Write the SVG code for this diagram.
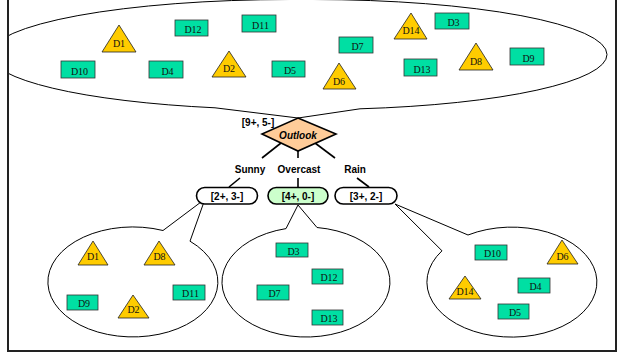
<svg xmlns="http://www.w3.org/2000/svg" width="618" height="353" viewBox="0 0 618 353">
<style>
.r{fill:#00DFA3;stroke:#333;stroke-width:0.8}
.t{fill:#FFCC00;stroke:#222;stroke-width:0.8}
.d{font-family:"Liberation Serif","Times New Roman",serif;font-size:10px;fill:#111;text-anchor:middle}
.b{font-family:"Liberation Sans",Arial,sans-serif;font-size:10px;font-weight:bold;fill:#000;text-anchor:middle}
.bal{fill:#fff;stroke:#000;stroke-width:1}
.pill{stroke:#000;stroke-width:1.6}
.ln{stroke:#000;stroke-width:1.6;fill:none}
</style>
<defs>
<clipPath id="frameclip"><rect x="8" y="0" width="608" height="352"/></clipPath>
</defs>
<rect x="0" y="0" width="618" height="353" fill="#fff"/>

<g id="balloons" clip-path="url(#frameclip)">
<path class="bal" d="M 215,107.8 A 300 55 0 0 1 -10,54.5 A 300 55 0 0 1 290,-0.5 L 313,-0.5 A 294 55 0 0 1 607,54.5 A 294 55 0 0 1 360,108.8 L 298,118 Z"/>
<path class="bal" d="M 190,241.2 A 85 55 0 1 1 163,230.5 L 205,199 Z"/>
<path class="bal" d="M 317,227.5 A 84 55 0 1 1 286,228.6 L 298,205 Z"/>
<path class="bal" d="M 468,235 A 85 55 0 1 1 442,250.8 L 395,204 Z"/>
</g>

<rect x="8" y="-10" width="608" height="361" fill="none" stroke="#222" stroke-width="2"/>

<g id="top-set">
<g id="t-D12"><rect class="r" x="175" y="20" width="33" height="16"/><text class="d" x="193" y="33">D12</text></g>
<g id="t-D11"><rect class="r" x="242" y="15" width="34" height="17"/><text class="d" x="260.5" y="28.5">D11</text></g>
<g id="t-D10"><rect class="r" x="61" y="61" width="34" height="17"/><text class="d" x="79.5" y="74.5">D10</text></g>
<g id="t-D4"><rect class="r" x="149" y="61" width="34" height="17"/><text class="d" x="167.5" y="74.5">D4</text></g>
<g id="t-D5"><rect class="r" x="272" y="61" width="33" height="16"/><text class="d" x="290" y="74">D5</text></g>
<g id="t-D3"><rect class="r" x="435" y="13" width="34" height="16"/><text class="d" x="453.5" y="26">D3</text></g>
<g id="t-D7"><rect class="r" x="339" y="37" width="34" height="16"/><text class="d" x="357.5" y="50">D7</text></g>
<g id="t-D13"><rect class="r" x="404" y="59" width="33" height="17"/><text class="d" x="422" y="72.5">D13</text></g>
<g id="t-D9"><rect class="r" x="510" y="48" width="34" height="17"/><text class="d" x="528.5" y="61.5">D9</text></g>
<g id="t-D1"><polygon class="t" points="119,25 102,52 136,52"/><text class="d" x="119" y="46.5">D1</text></g>
<g id="t-D2"><polygon class="t" points="229,51 212,77 246,77"/><text class="d" x="229" y="71.5">D2</text></g>
<g id="t-D14"><polygon class="t" points="411,13 394,39 427,39"/><text class="d" x="411" y="34">D14</text></g>
<g id="t-D8"><polygon class="t" points="476,43 459,70 493,70"/><text class="d" x="476" y="65">D8</text></g>
<g id="t-D6"><polygon class="t" points="339,63 323,89 356,89"/><text class="d" x="339" y="84.5">D6</text></g>
</g>

<g id="connectors">
<line class="ln" x1="281" y1="143" x2="262" y2="158"/>
<line class="ln" x1="298" y1="151" x2="298" y2="158"/>
<line class="ln" x1="315" y1="143" x2="335" y2="158"/>
<line class="ln" x1="240" y1="178" x2="229" y2="187"/>
<line class="ln" x1="298" y1="178" x2="298" y2="187"/>
<line class="ln" x1="357" y1="178" x2="369" y2="187"/>
</g>

<g id="outlook">
<polygon points="298,118 336,134 298,151 262,134" fill="#FFCC99" stroke="#000" stroke-width="1.6"/>
<text class="b" x="298" y="138.7" font-style="italic">Outlook</text>
<text class="b" x="258" y="125.5">[9+, 5-]</text>
</g>

<g id="labels">
<text class="b" x="250" y="172.6">Sunny</text>
<text class="b" x="299" y="172.6">Overcast</text>
<text class="b" x="355" y="172.6">Rain</text>
</g>

<g id="sunny-node"><rect class="pill" x="196.5" y="187.5" width="61" height="16.5" rx="8.2" fill="#fff"/><text class="b" x="227" y="200">[2+, 3-]</text></g>
<g id="overcast-node"><rect class="pill" x="268" y="187.5" width="60" height="16.5" rx="8.2" fill="#CCFFCC"/><text class="b" x="298" y="200">[4+, 0-]</text></g>
<g id="rain-node"><rect class="pill" x="335" y="187.5" width="62" height="16.5" rx="8.2" fill="#fff"/><text class="b" x="366" y="200">[3+, 2-]</text></g>

<g id="sunny-set">
<g id="s-D1"><polygon class="t" points="93,241 78,265 108,265"/><text class="d" x="93" y="260">D1</text></g>
<g id="s-D8"><polygon class="t" points="159,241 144,265 175,265"/><text class="d" x="159.5" y="260">D8</text></g>
<g id="s-D9"><rect class="r" x="67" y="295" width="31" height="15"/><text class="d" x="84" y="307">D9</text></g>
<g id="s-D2"><polygon class="t" points="133,295 118,318 149,318"/><text class="d" x="133.5" y="312.5">D2</text></g>
<g id="s-D11"><rect class="r" x="173" y="285" width="32" height="15"/><text class="d" x="190.5" y="297">D11</text></g>
</g>

<g id="overcast-set">
<g id="o-D3"><rect class="r" x="276" y="243" width="32" height="14"/><text class="d" x="293.5" y="254.5">D3</text></g>
<g id="o-D12"><rect class="r" x="312" y="269" width="31" height="15"/><text class="d" x="329" y="281">D12</text></g>
<g id="o-D7"><rect class="r" x="257" y="285" width="32" height="15"/><text class="d" x="274.5" y="297">D7</text></g>
<g id="o-D13"><rect class="r" x="312" y="310" width="31" height="15"/><text class="d" x="329" y="322">D13</text></g>
</g>

<g id="rain-set">
<g id="r-D10"><rect class="r" x="475" y="245" width="32" height="15"/><text class="d" x="492.5" y="257">D10</text></g>
<g id="r-D6"><polygon class="t" points="562,240 547,264 578,264"/><text class="d" x="562.5" y="259.5">D6</text></g>
<g id="r-D4"><rect class="r" x="518" y="278" width="32" height="15"/><text class="d" x="535.5" y="290">D4</text></g>
<g id="r-D14"><polygon class="t" points="465,276 449,299 481,299"/><text class="d" x="465" y="294.5">D14</text></g>
<g id="r-D5"><rect class="r" x="498" y="304" width="31" height="15"/><text class="d" x="515" y="316">D5</text></g>
</g>
</svg>
